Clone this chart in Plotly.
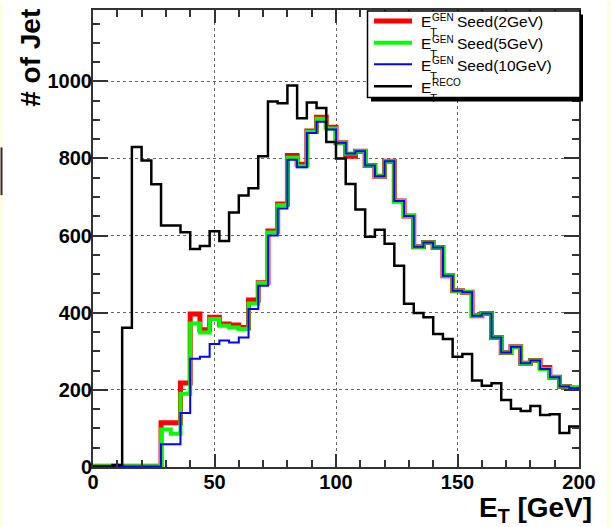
import numpy as np
import plotly.graph_objects as go

# 50 bins of 4 GeV between 0 and 200 GeV
bin_edges = np.arange(0, 204, 4)

et_gen_seed2 = [2, 2, 2, 2, 2, 2, 2, 115, 115, 218,
                397, 356, 388, 371, 368, 362, 433, 478, 612, 682,
                808, 785, 871, 907, 881, 841, 806, 819, 782, 754,
                793, 690, 651, 571, 582, 569, 496, 457, 453, 392,
                398, 336, 297, 312, 269, 276, 258, 233, 209, 205]

et_gen_seed5 = [2, 2, 2, 2, 2, 2, 2, 97, 86, 190,
                372, 349, 384, 366, 362, 358, 424, 477, 608, 679,
                802, 780, 869, 903, 878, 841, 813, 819, 782, 754,
                793, 690, 651, 571, 582, 569, 496, 457, 453, 392,
                398, 336, 297, 312, 269, 276, 254, 233, 209, 207]

et_gen_seed10 = [1, 1, 1, 1, 1, 1, 1, 59, 59, 140,
                 281, 286, 319, 328, 323, 336, 410, 470, 600, 670,
                 797, 777, 866, 895, 875, 841, 813, 819, 782, 754,
                 793, 690, 651, 571, 582, 569, 496, 457, 453, 392,
                 398, 336, 297, 312, 269, 276, 254, 233, 209, 205]

et_reco = [1, 1, 5, 361, 830, 795, 733, 626, 626, 609,
           565, 573, 611, 586, 660, 704, 723, 806, 948, 943,
           989, 904, 945, 931, 843, 800, 734, 668, 597, 615,
           579, 522, 423, 399, 388, 345, 332, 286, 293, 224,
           211, 217, 174, 151, 145, 158, 135, 137, 88, 105]

x_ticks = [0, 50, 100, 150, 200]
y_ticks = [0, 200, 400, 600, 800, 1000]

series = [
    ("Seed(2GeV)", et_gen_seed2, "#ff0000", 5),
    ("Seed(5GeV)", et_gen_seed5, "#00ff00", 4),
    ("Seed(10GeV)", et_gen_seed10, "#0000ff", 2),
    ("RECO", et_reco, "#000000", 2.5),
]

W, H = 611, 527
L, R, T, B = 93, 32, 8, 60
PW, PH = W - L - R, H - T - B


def fx(p):
    return (p - L) / PW


def fy(p):
    return 1 - (p - T) / PH


fig = go.Figure()
for name, vals, color, width in series:
    fig.add_trace(go.Scatter(
        x=bin_edges, y=list(vals) + [vals[-1]],
        mode="lines", line=dict(color=color, width=width, shape="hv"),
        name=name, showlegend=False, hoverinfo="skip"))

axis_common = dict(
    ticks="inside", tickcolor="#333", tickwidth=1.5,
    showline=True, linecolor="#333", linewidth=2, mirror="ticks",
    showgrid=True, griddash="dot", gridcolor="#666", gridwidth=1,
    zeroline=False,
    tickfont=dict(family="Liberation Sans", size=20, color="black", weight="bold"),
)

fig.update_xaxes(range=[0, 200], tickvals=x_ticks, ticklen=13, ticklabelstandoff=-4,
                 minor=dict(dtick=10, ticklen=7, ticks="inside", tickcolor="#333",
                            tickwidth=1.5, showgrid=False),
                 **axis_common)
fig.update_yaxes(range=[0, 1185], tickvals=y_ticks, ticklen=15, ticklabelstandoff=-5,
                 minor=dict(dtick=50, ticklen=7, ticks="inside", tickcolor="#333",
                            tickwidth=1.5, showgrid=False),
                 **axis_common)

shapes = []
annotations = []

# page edge tint
shapes.append(dict(type="rect", xref="paper", yref="paper", x0=fx(0), x1=fx(3),
                   y0=fy(0), y1=fy(H), fillcolor="#fdfde4", line=dict(width=0), layer="below"))
shapes.append(dict(type="rect", xref="paper", yref="paper", x0=fx(607), x1=fx(W),
                   y0=fy(0), y1=fy(H), fillcolor="#fdfde4", line=dict(width=0), layer="below"))
shapes.append(dict(type="line", xref="paper", yref="paper", x0=fx(1.5), x1=fx(1.5),
                   y0=fy(146), y1=fy(194), line=dict(color="#3a2a30", width=2), layer="above"))

# legend box with drop shadow
shapes.append(dict(type="rect", xref="paper", yref="paper", x0=fx(371), x1=fx(583),
                   y0=fy(100), y1=fy(12.5), fillcolor="black", line=dict(width=0), layer="above"))
shapes.append(dict(type="rect", xref="paper", yref="paper", x0=fx(367.5), x1=fx(580),
                   y0=fy(96), y1=fy(9), fillcolor="white",
                   line=dict(color="black", width=1.5), layer="above"))

row_y = [19, 41, 62.5, 84.5]
sup_text = ["GEN", "GEN", "GEN", "RECO"]
for (name, vals, color, width), yy, sup in zip(series, row_y, sup_text):
    shapes.append(dict(type="line", xref="paper", yref="paper", x0=fx(374), x1=fx(412),
                       y0=fy(yy), y1=fy(yy), line=dict(color=color, width=width), layer="above"))
    base = yy + 6.5
    annotations.append(dict(text="E", x=fx(419.5), y=fy(base - 5.6), xref="paper", yref="paper",
                            xanchor="left", yanchor="middle", showarrow=False, borderpad=0,
                            font=dict(family="Liberation Sans", size=15.5, color="black")))
    annotations.append(dict(text=sup, x=fx(431), y=fy(base - 10), xref="paper", yref="paper",
                            xanchor="left", yanchor="middle", showarrow=False, borderpad=0,
                            font=dict(family="Liberation Sans", size=10, color="black")))
    annotations.append(dict(text="T", x=fx(428.5), y=fy(base + 5), xref="paper", yref="paper",
                            xanchor="left", yanchor="middle", showarrow=False, borderpad=0,
                            font=dict(family="Liberation Sans", size=11.5, color="black")))
    if name != "RECO":
        annotations.append(dict(text=name, x=fx(455.5), y=fy(base - 5.6), xref="paper", yref="paper",
                                xanchor="left", yanchor="middle", showarrow=False, borderpad=0,
                                font=dict(family="Liberation Sans", size=15.5, color="black")))

# axis titles
annotations.append(dict(text="# of Jet", x=fx(31), y=fy(56), xref="paper", yref="paper",
                        xanchor="center", yanchor="middle", textangle=-90, showarrow=False,
                        borderpad=0,
                        font=dict(family="Liberation Sans", size=28, color="black", weight="bold")))
annotations.append(dict(text="E<sub>T</sub> [GeV]", x=fx(593), y=fy(510), xref="paper", yref="paper",
                        xanchor="right", yanchor="middle", showarrow=False, borderpad=0,
                        font=dict(family="Liberation Sans", size=28, color="black", weight="bold")))

fig.update_layout(
    width=W, height=H,
    margin=dict(l=L, r=R, t=T, b=B),
    paper_bgcolor="white", plot_bgcolor="white",
    shapes=shapes, annotations=annotations,
    showlegend=False,
)

fig.write_html("out.html")
